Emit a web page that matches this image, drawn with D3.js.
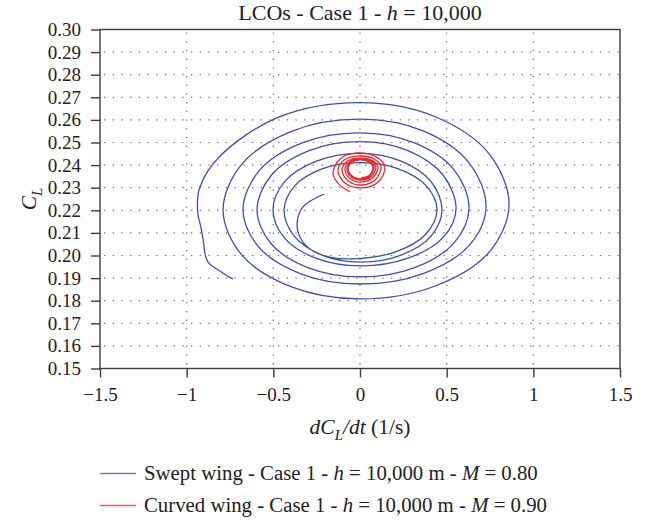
<!DOCTYPE html>
<html>
<head>
<meta charset="utf-8">
<script src="https://cdn.jsdelivr.net/npm/d3@7"></script>
<style>
  body { margin: 0; background: #fff; }
  text { font-family: "Liberation Serif", "DejaVu Serif", serif; fill: #222; }
</style>
</head>
<body>
<svg id="chart" width="646" height="521"></svg>
<script>
// Axis ticks
const xTicks = [-1.5, -1, -0.5, 0, 0.5, 1, 1.5];
const xTickLabels = ["\u22121.5", "\u22121", "\u22120.5", "0", "0.5", "1", "1.5"];
const yTicks = [0.15, 0.16, 0.17, 0.18, 0.19, 0.20, 0.21, 0.22, 0.23, 0.24, 0.25, 0.26, 0.27, 0.28, 0.29, 0.30];
const yTickLabels = ["0.15", "0.16", "0.17", "0.18", "0.19", "0.20", "0.21", "0.22", "0.23", "0.24", "0.25", "0.26", "0.27", "0.28", "0.29", "0.30"];

// Phase trajectory [dCL/dt, CL] - swept wing, from the outer end inward
const sweptWing = [
  [-0.733, 0.1896], [-0.796, 0.1925], [-0.877, 0.1971], [-0.894, 0.2007], [-0.903, 0.2060], [-0.917, 0.2122],
  [-0.937, 0.2197], [-0.925, 0.2300], [-0.811, 0.2437], [-0.469, 0.2612], [0.000, 0.2676],
  [0.430, 0.2615], [0.745, 0.2450], [0.860, 0.2223], [0.745, 0.2015], [0.430, 0.1864], [0.000, 0.1808],
  [-0.395, 0.1861], [-0.684, 0.2004], [-0.790, 0.2201], [-0.684, 0.2402], [-0.395, 0.2549], [0.000, 0.2603],
  [0.364, 0.2551], [0.630, 0.2409], [0.727, 0.2215], [0.630, 0.2045], [0.364, 0.1920], [0.000, 0.1874],
  [-0.338, 0.1918], [-0.585, 0.2038], [-0.675, 0.2201], [-0.585, 0.2372], [-0.338, 0.2497], [0.000, 0.2543],
  [0.315, 0.2498], [0.545, 0.2377], [0.629, 0.2210], [0.545, 0.2058], [0.315, 0.1946], [0.000, 0.1905],
  [-0.297, 0.1945], [-0.514, 0.2053], [-0.594, 0.2201], [-0.514, 0.2353], [-0.297, 0.2463], [0.000, 0.2504],
  [0.277, 0.2464], [0.480, 0.2355], [0.554, 0.2206], [0.480, 0.2080], [0.277, 0.1988], [0.000, 0.1954],
  [-0.251, 0.1987], [-0.435, 0.2077], [-0.502, 0.2201], [-0.435, 0.2327], [-0.251, 0.2418], [0.000, 0.2452],
  [0.237, 0.2418], [0.410, 0.2327], [0.473, 0.2201], [0.410, 0.2086], [0.237, 0.2002], [0.000, 0.1971],
  [-0.219, 0.2002], [-0.379, 0.2086], [-0.438, 0.2201], [-0.379, 0.2306], [-0.219, 0.2383], [0.000, 0.2411],
  [0.222, 0.2383], [0.385, 0.2306], [0.444, 0.2201], [0.378, 0.2093], [0.197, 0.2014], [-0.050, 0.1985],
  [-0.175, 0.1993], [-0.271, 0.2020], [-0.340, 0.2072], [-0.363, 0.2144], [-0.329, 0.2215], [-0.208, 0.2272]
];

// Phase trajectory [dCL/dt, CL] - curved wing, from the outer end inward
const curvedWing = [
  [-0.058, 0.2281], [-0.125, 0.2318], [-0.156, 0.2365], [-0.115, 0.2427], [-0.017, 0.2454], [0.097, 0.2435],
  [0.144, 0.2392], [0.106, 0.2326], [0.012, 0.2299], [-0.087, 0.2321], [-0.127, 0.2374], [-0.093, 0.2421],
  [-0.012, 0.2440], [0.083, 0.2426], [0.121, 0.2392], [0.089, 0.2335], [0.012, 0.2312], [-0.070, 0.2331],
  [-0.104, 0.2378], [-0.075, 0.2416], [-0.006, 0.2431], [0.072, 0.2420], [0.104, 0.2392], [0.075, 0.2345],
  [0.006, 0.2325], [-0.059, 0.2342], [-0.087, 0.2383], [-0.061, 0.2414], [0.000, 0.2427], [0.065, 0.2417],
  [0.092, 0.2392], [0.067, 0.2351], [0.006, 0.2334], [-0.051, 0.2348], [-0.075, 0.2383], [-0.053, 0.2411],
  [0.000, 0.2423], [0.057, 0.2413], [0.081, 0.2392], [0.059, 0.2354], [0.006, 0.2339], [-0.047, 0.2353],
  [-0.069, 0.2387], [-0.049, 0.2412], [0.000, 0.2423], [0.053, 0.2413], [0.075, 0.2392], [0.055, 0.2355],
  [0.006, 0.2343]
];

// Legend entries as [text, italic] runs
const seriesLabels = [
  [["Swept wing - Case 1 - ", false], ["h", true], [" = 10,000 m - ", false], ["M", true], [" = 0.80", false]],
  [["Curved wing - Case 1 - ", false], ["h", true], [" = 10,000 m - ", false], ["M", true], [" = 0.90", false]]
];
const seriesColors = ["#3a53a4", "#e8282c"];
const legendColors = ["#6f80c2", "#ef5a5d"];

const svg = d3.select("#chart");
const plotLeft = 100, plotRight = 620, plotTop = 29.5, plotBottom = 368.5;

const x = d3.scaleLinear().domain([-1.5, 1.5]).range([plotLeft, plotRight]);
const y = d3.scaleLinear().domain([0.15, 0.30]).range([plotBottom, plotTop]);

// dotted grid
const grid = svg.append("g").attr("stroke", "#6e6e6e").attr("stroke-width", 1.2)
  .attr("stroke-dasharray", "1.3,7.4");
grid.selectAll("line.h").data(yTicks.slice(1, -1)).join("line")
  .attr("x1", plotLeft + 4).attr("x2", plotRight).attr("y1", d => y(d)).attr("y2", d => y(d));
grid.selectAll("line.v").data(xTicks.slice(1, -1)).join("line")
  .attr("x1", d => x(d)).attr("x2", d => x(d)).attr("y1", plotTop + 3).attr("y2", plotBottom);

// trajectories
const line = d3.line().x(d => x(d[0])).y(d => y(d[1])).curve(d3.curveCatmullRom.alpha(0.5));
svg.append("path").datum(sweptWing).attr("d", line)
  .attr("fill", "none").attr("stroke", seriesColors[0]).attr("stroke-width", 1.3);
svg.append("path").datum(curvedWing).attr("d", line)
  .attr("fill", "none").attr("stroke", seriesColors[1]).attr("stroke-width", 1.3);

// frame
svg.append("rect").attr("x", plotLeft).attr("y", plotTop).attr("width", plotRight - plotLeft).attr("height", plotBottom - plotTop)
  .attr("fill", "none").attr("stroke", "#3c3c3c").attr("stroke-width", 1.4);

// axes
const xAxis = svg.append("g").attr("transform", `translate(0,${plotBottom})`)
  .call(d3.axisBottom(x).tickValues(xTicks).tickFormat((d, i) => xTickLabels[i]).tickSize(9).tickPadding(10).tickSizeOuter(0));
const yAxis = svg.append("g").attr("transform", `translate(${plotLeft},0)`)
  .call(d3.axisLeft(y).tickValues(yTicks).tickFormat((d, i) => yTickLabels[i]).tickSize(9).tickPadding(10).tickSizeOuter(0));
[xAxis, yAxis].forEach(g => {
  g.select(".domain").remove();
  g.selectAll(".tick line").attr("stroke", "#3c3c3c").attr("stroke-width", 1.4);
  g.selectAll(".tick text").attr("font-family", "Liberation Serif, serif").attr("font-size", 19).attr("fill", "#222");
});

// title
const title = svg.append("text").attr("x", 360).attr("y", 20).attr("text-anchor", "middle").attr("font-size", 22);
title.append("tspan").text("LCOs - Case 1 - ");
title.append("tspan").attr("font-style", "italic").text("h");
title.append("tspan").text(" = 10,000");

// x axis title
const xt = svg.append("text").attr("x", 360).attr("y", 434).attr("text-anchor", "middle").attr("font-size", 21.5);
xt.append("tspan").attr("font-style", "italic").text("dC");
xt.append("tspan").attr("font-style", "italic").attr("font-size", 15).attr("dy", 6).text("L");
xt.append("tspan").attr("font-style", "italic").attr("dy", -6).text("/dt");
xt.append("tspan").text(" (1/s)");

// y axis title
const yt = svg.append("text").attr("transform", `translate(36,199) rotate(-90)`).attr("text-anchor", "middle").attr("font-size", 21.5);
yt.append("tspan").attr("font-style", "italic").text("C");
yt.append("tspan").attr("font-style", "italic").attr("font-size", 15).attr("dy", 6).text("L");

// legend
const legend = svg.append("g");
seriesLabels.forEach((runs, i) => {
  const ly = 473.5 + i * 32;
  legend.append("line").attr("x1", 100).attr("x2", 136).attr("y1", ly).attr("y2", ly)
    .attr("stroke", legendColors[i]).attr("stroke-width", 1.6);
  const t = legend.append("text").attr("x", 144).attr("y", ly + 6.5).attr("font-size", 20.8);
  runs.forEach(([s, it]) => t.append("tspan").attr("font-style", it ? "italic" : null).text(s));
});
</script>
</body>
</html>
